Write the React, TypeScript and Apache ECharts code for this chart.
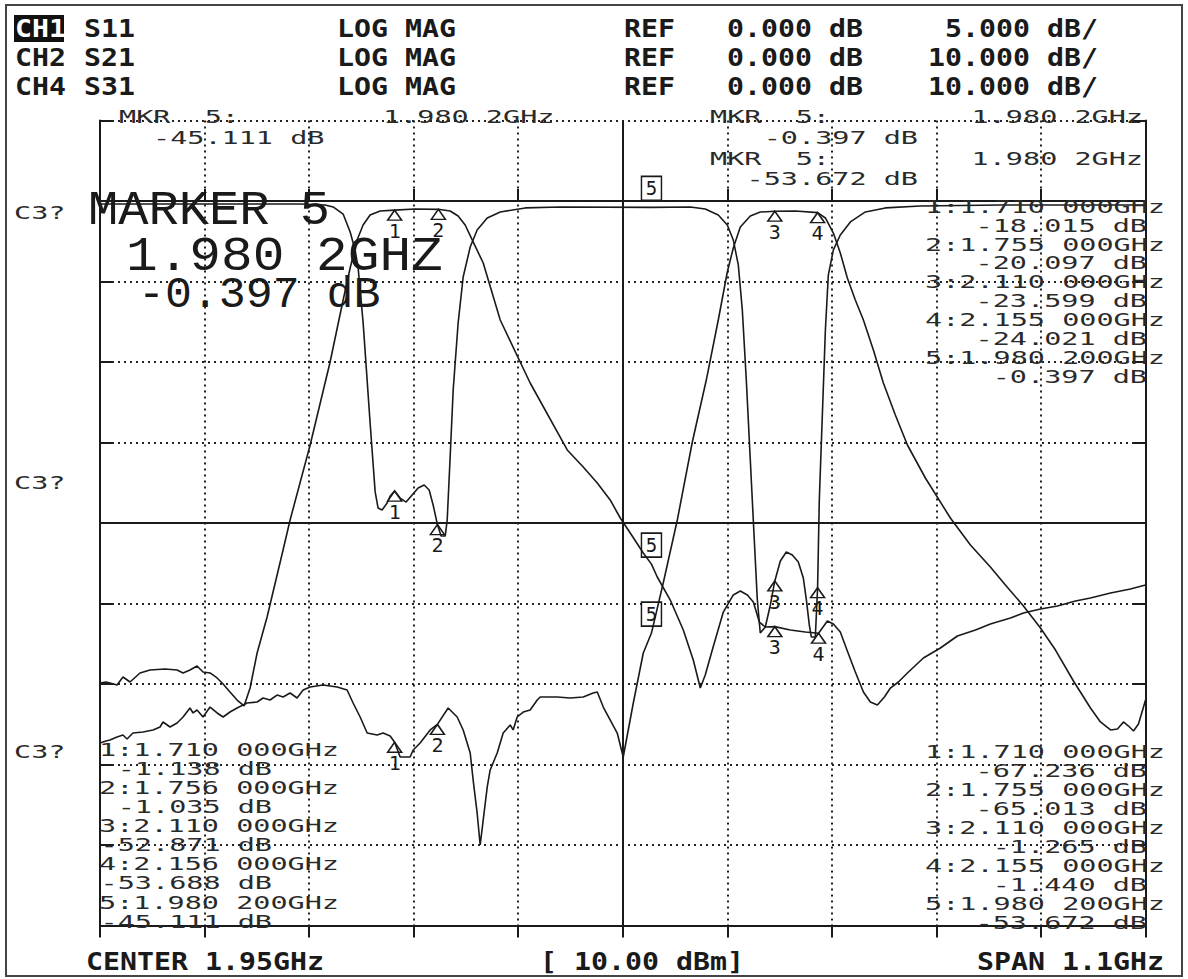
import React, { useEffect, useRef } from "react";
import * as echarts from "echarts";

// ---- axis ranges (GHz / dB) ----
const FREQ_MIN = 1.4;
const FREQ_MAX = 2.5;
const FREQ_CENTER = 1.95;
const CH1_RANGE = [-45, 5]; // 5 dB/div, ref 0 dB one division below top
const CH24_RANGE = [-90, 10]; // 10 dB/div

// ---- traces [GHz, dB] ----
const s11Trace: [number, number][] = [
  [1.4, -0.19], [1.5053, -0.19], [1.6105, -0.19], [1.6368, -0.25], [1.6453, -0.37], [1.6558, -0.81],
  [1.6632, -1.93], [1.6684, -3.04], [1.6716, -4.16], [1.6768, -7.52], [1.6842, -13.79], [1.6895, -18.07],
  [1.6926, -19.07], [1.6968, -19.19], [1.7021, -18.76], [1.7053, -18.32], [1.71, -18.015], [1.7158, -18.45],
  [1.7221, -18.7], [1.7284, -18.26], [1.7347, -17.83], [1.7411, -17.64], [1.7463, -17.95], [1.7505, -18.88],
  [1.755, -20.097], [1.7589, -20.81], [1.7632, -20.81], [1.7653, -19.81], [1.7684, -15.9], [1.7716, -11.74],
  [1.7768, -7.58], [1.7821, -4.72], [1.7895, -2.86], [1.7968, -1.8], [1.8074, -1.06], [1.8211, -0.68],
  [1.8474, -0.43], [1.8842, -0.37], [1.9802, -0.397], [2.0211, -0.37], [2.0368, -0.5], [2.0505, -0.87],
  [2.06, -1.49], [2.0663, -2.42], [2.0716, -3.98], [2.0758, -6.77], [2.08, -11.12], [2.0842, -16.09],
  [2.0884, -21.06], [2.0916, -24.78], [2.0947, -26.83], [2.1, -26.46], [2.1053, -25.09], [2.11, -23.599],
  [2.1158, -22.36], [2.1221, -21.8], [2.1284, -21.99], [2.1347, -22.42], [2.14, -23.42], [2.1432, -24.78],
  [2.1463, -26.34], [2.1484, -27.08], [2.1526, -27.08], [2.155, -24.021], [2.1568, -18.57], [2.16, -13.29],
  [2.1632, -8.01], [2.1663, -4.6], [2.1716, -3.04], [2.1789, -2.11], [2.1895, -1.3], [2.2053, -0.68],
  [2.2263, -0.43], [2.2632, -0.31], [2.3474, -0.25], [2.5, -0.25],
];

const s21Trace: [number, number][] = [
  [1.4, -59.88], [1.4063, -59.75], [1.4105, -59.88], [1.4179, -60.12], [1.4242, -59.13], [1.4316, -59.75],
  [1.4421, -58.63], [1.4526, -58.26], [1.4684, -58.14], [1.4811, -58.26], [1.4874, -58.63], [1.4947, -58.26],
  [1.5021, -57.76], [1.5084, -58.51], [1.5158, -58.63], [1.5232, -59.25], [1.5295, -60.0], [1.5368, -60.99],
  [1.5442, -61.99], [1.5516, -62.73], [1.5579, -60.5], [1.5653, -56.15], [1.5758, -51.68], [1.5926, -43.35],
  [1.6, -39.63], [1.6211, -30.31], [1.6421, -20.0], [1.6558, -12.3], [1.6632, -8.32], [1.6705, -4.84],
  [1.6768, -2.98], [1.6842, -1.74], [1.6947, -1.24], [1.71, -1.138], [1.7316, -0.99], [1.756, -1.035],
  [1.7684, -1.24], [1.7768, -1.86], [1.7842, -2.98], [1.7916, -4.84], [1.8032, -7.7], [1.8211, -14.78],
  [1.8526, -22.61], [1.8916, -30.93], [1.9084, -33.04], [1.9232, -35.03], [1.9368, -37.14], [1.9474, -39.38],
  [1.9579, -41.24], [1.9716, -43.73], [1.9802, -45.111], [1.9863, -46.71], [2.0, -49.57], [2.0137, -53.29],
  [2.0242, -57.02], [2.0316, -60.5], [2.0368, -58.88], [2.0442, -55.78], [2.0558, -51.06], [2.0663, -48.94],
  [2.0737, -48.45], [2.0811, -48.94], [2.0874, -49.81], [2.0937, -52.3], [2.1, -52.92], [2.11, -52.871],
  [2.1263, -53.29], [2.1421, -53.54], [2.156, -53.688], [2.1653, -52.17], [2.1716, -52.55], [2.1789, -53.54],
  [2.1863, -55.9], [2.1947, -58.51], [2.2032, -60.99], [2.2105, -62.24], [2.2179, -62.61], [2.2253, -61.61],
  [2.2316, -60.5], [2.24, -59.75], [2.2495, -58.63], [2.2663, -56.77], [2.2842, -55.53], [2.3021, -54.04],
  [2.3211, -53.29], [2.3368, -52.55], [2.3579, -51.8], [2.3716, -51.18], [2.3895, -50.68], [2.4074, -50.31],
  [2.4263, -49.69], [2.4421, -49.32], [2.4632, -48.7], [2.4842, -48.2], [2.5, -47.7],
];

const s31Trace: [number, number][] = [
  [1.4, -67.33], [1.4063, -67.08], [1.4105, -66.96], [1.4179, -66.58], [1.4242, -66.34], [1.4284, -66.83],
  [1.4347, -66.09], [1.4453, -65.96], [1.4558, -65.71], [1.4632, -65.34], [1.4663, -64.72], [1.4737, -65.34],
  [1.4811, -64.84], [1.4874, -64.1], [1.4947, -62.98], [1.4979, -63.6], [1.5021, -63.23], [1.5084, -64.1],
  [1.5158, -62.86], [1.5232, -63.6], [1.5295, -64.1], [1.5368, -63.48], [1.5442, -62.98], [1.5547, -62.36],
  [1.5653, -62.24], [1.5716, -61.74], [1.5789, -61.99], [1.5863, -61.37], [1.5926, -61.61], [1.6, -61.12],
  [1.6074, -61.74], [1.6137, -60.75], [1.6211, -60.37], [1.6347, -60.12], [1.6495, -60.37], [1.66, -60.75],
  [1.6663, -62.36], [1.6737, -64.1], [1.6811, -66.09], [1.6916, -66.34], [1.6979, -66.09], [1.7053, -66.46],
  [1.71, -67.236], [1.7158, -69.07], [1.7263, -69.07], [1.7295, -68.2], [1.7368, -67.33], [1.7474, -65.71],
  [1.755, -65.013], [1.7663, -62.98], [1.7758, -64.1], [1.7821, -65.71], [1.7895, -68.57], [1.7926, -71.93],
  [1.7968, -76.02], [1.8, -80.0], [1.8032, -76.89], [1.8074, -72.8], [1.8105, -70.68], [1.8179, -68.57],
  [1.8242, -66.09], [1.8316, -65.09], [1.8347, -65.71], [1.8389, -64.1], [1.8453, -63.48], [1.8526, -63.23],
  [1.86, -61.99], [1.8632, -61.61], [1.8811, -61.61], [1.8947, -61.74], [1.9084, -61.61], [1.9189, -61.12],
  [1.9232, -60.99], [1.9295, -62.86], [1.9442, -66.09], [1.9505, -69.07], [1.9611, -62.36], [1.9716, -56.15],
  [1.9802, -53.672], [1.9926, -47.45], [2.0074, -39.63], [2.0232, -29.94], [2.0379, -22.24], [2.0505, -14.78],
  [2.06, -8.82], [2.0663, -5.84], [2.0737, -3.23], [2.0842, -1.86], [2.0947, -1.37], [2.11, -1.265],
  [2.1316, -1.24], [2.155, -1.44], [2.1632, -2.11], [2.1716, -3.98], [2.1789, -6.46], [2.1863, -9.57],
  [2.1947, -12.3], [2.2032, -14.78], [2.2137, -18.51], [2.2242, -22.61], [2.2368, -26.58], [2.2495, -30.31],
  [2.2684, -34.41], [2.2947, -39.38], [2.3158, -42.73], [2.3368, -45.47], [2.3526, -47.7], [2.3716, -50.31],
  [2.3895, -53.04], [2.4053, -55.78], [2.4242, -59.63], [2.4421, -62.98], [2.4526, -64.72], [2.4632, -65.71],
  [2.4705, -65.59], [2.4768, -64.72], [2.4821, -65.22], [2.4874, -65.84], [2.4926, -64.97], [2.4979, -62.86],
  [2.5, -61.99],
];

// ---- markers [GHz, dB] (1..4 triangles, 5 active box) ----
const s11Markers: [number, number][] = [[1.71, -18.015], [1.755, -20.097], [2.11, -23.599], [2.155, -24.021], [1.9802, -0.397]];
const s21Markers: [number, number][] = [[1.71, -1.138], [1.756, -1.035], [2.11, -52.871], [2.156, -53.688], [1.9802, -45.111]];
const s31Markers: [number, number][] = [[1.71, -67.236], [1.755, -65.013], [2.11, -1.265], [2.155, -1.44], [1.9802, -53.672]];

// ---- texts ----
const channelLabels = ["CH1", "CH2", "CH4"];
const paramLabels = ["S11", "S21", "S31"];
const formatLabels = ["LOG MAG", "LOG MAG", "LOG MAG"];
const refLabels = ["REF", "REF", "REF"];
const refValueLabels = ["0.000 dB", "0.000 dB", "0.000 dB"];
const scaleLabels = ["5.000 dB/", "10.000 dB/", "10.000 dB/"];
const footerLabels = ["CENTER 1.95GHz", "[ 10.00 dBm]", "SPAN 1.1GHz"];
const bigMarkerLines = ["MARKER 5", "1.980 2GHZ", "-0.397 dB"];
const listCH1 = ["1:1.710 000GHz", "-18.015 dB", "2:1.755 000GHz", "-20.097 dB", "3:2.110 000GHz", "-23.599 dB", "4:2.155 000GHz", "-24.021 dB", "5:1.980 200GHz", "-0.397 dB"];
const listCH2 = ["1:1.710 000GHz", "-1.138 dB", "2:1.756 000GHz", "-1.035 dB", "3:2.110 000GHz", "-52.871 dB", "4:2.156 000GHz", "-53.688 dB", "5:1.980 200GHz", "-45.111 dB"];
const listCH4 = ["1:1.710 000GHz", "-67.236 dB", "2:1.755 000GHz", "-65.013 dB", "3:2.110 000GHz", "-1.265 dB", "4:2.155 000GHz", "-1.440 dB", "5:1.980 200GHz", "-53.672 dB"];
const mkrReadouts = [
  { label: "MKR  5:", freq: "1.980 2GHz", value: "-45.111 dB" },
  { label: "MKR  5:", freq: "1.980 2GHz", value: "-0.397 dB" },
  { label: "MKR  5:", freq: "1.980 2GHz", value: "-53.672 dB" },
];
const sideLabels = ["C3?", "C3?", "C3?"];

const INK = "#1a1a1a";
const SMALL_SIZE = 16;
const SMALL_SCALE = 1.78;
const BOLD_SIZE = 25;
const BOLD_SCALE = 1.13;

function smallText(text: string, x: number, y: number, align: string = "left") {
  return {
    type: "text",
    x,
    y,
    scaleX: SMALL_SCALE,
    scaleY: 1.05,
    z: 100,
    silent: true,
    style: {
      text,
      fill: "#2a2a2a",
      font: `${SMALL_SIZE}px 'DejaVu Sans Mono'`,
      textAlign: align,
      textVerticalAlign: "middle",
      align,
      verticalAlign: "middle",
    },
  };
}

function boldText(text: string, x: number, y: number, align: string = "left", fill: string = INK) {
  return {
    type: "text",
    x,
    y,
    scaleX: BOLD_SCALE,
    z: 101,
    silent: true,
    style: {
      text,
      fill,
      font: `bold ${BOLD_SIZE}px 'DejaVu Sans Mono'`,
      textAlign: align,
      textVerticalAlign: "middle",
      align,
      verticalAlign: "middle",
    },
  };
}

function bigText(text: string, x: number, y: number, size: number, sx: number) {
  return {
    type: "text",
    x,
    y,
    scaleX: sx,
    z: 100,
    silent: true,
    style: {
      text,
      fill: INK,
      font: `${size}px 'Liberation Mono'`,
      textAlign: "left",
      textVerticalAlign: "middle",
      align: "left",
      verticalAlign: "middle",
    },
  };
}

function markerPoints(markers: [number, number][]) {
  return markers.map((m, i) => {
    if (i === 4) {
      return {
        coord: m,
        value: "5",
        symbol: "rect",
        symbolSize: [20, 24],
        symbolOffset: [0, -19],
        itemStyle: { color: "#fff", borderColor: INK, borderWidth: 1.6 },
        label: { show: true, position: "inside", formatter: "5", fontSize: 19, color: INK, fontFamily: "DejaVu Sans Mono" },
      };
    }
    return { coord: m, value: String(i + 1) };
  });
}

function traceSeries(name: string, data: [number, number][], yAxisIndex: number, markers: [number, number][], extra: any = {}) {
  return {
    name,
    type: "line",
    xAxisIndex: 0,
    yAxisIndex,
    data,
    showSymbol: false,
    symbol: "none",
    smooth: false,
    silent: true,
    lineStyle: { color: INK, width: 1.6 },
    z: 5,
    markPoint: {
      silent: true,
      symbol: "triangle",
      symbolSize: [14, 10],
      symbolOffset: [0, 5],
      itemStyle: { color: "rgba(0,0,0,0)", borderColor: INK, borderWidth: 1.5 },
      label: {
        show: true,
        position: "bottom",
        distance: 0,
        formatter: (p: any) => p.value,
        fontSize: 20,
        color: INK,
        fontFamily: "DejaVu Sans Mono",
      },
      data: markerPoints(markers),
    },
    ...extra,
  };
}

export default function App() {
  const ref = useRef<HTMLDivElement>(null);

  useEffect(() => {
    if (!ref.current) return;
    const chart = echarts.init(ref.current, undefined, { renderer: "svg" });

    const dotted = { type: [2, 4], color: "#222", width: 2 };
    const border = { show: true, lineStyle: { color: INK, width: 2 } };
    const ticks = { show: true, inside: true, length: 12, lineStyle: { color: INK, width: 2 } };

    const graphics: any[] = [];
    // outer frame
    graphics.push({
      type: "rect",
      z: 0,
      silent: true,
      shape: { x: 6, y: 5, width: 1176, height: 971 },
      style: { fill: "none", stroke: "#444", lineWidth: 2 },
    });
    // header
    const rowY = [28, 57, 86];
    rowY.forEach((y, i) => {
      if (i === 0) {
        graphics.push({
          type: "rect",
          z: 100,
          silent: true,
          shape: { x: 14, y: 15, width: 50, height: 27 },
          style: { fill: "#111" },
        });
        graphics.push(boldText(channelLabels[i], 15, y, "left", "#fff"));
      } else {
        graphics.push(boldText(channelLabels[i], 15, y));
      }
      graphics.push(boldText(paramLabels[i], 84, y));
      graphics.push(boldText(formatLabels[i], 337, y));
      graphics.push(boldText(refLabels[i], 624, y));
      graphics.push(boldText(refValueLabels[i], 727, y));
      graphics.push(boldText(scaleLabels[i], 1098, y, "right"));
    });
    // footer
    graphics.push(boldText(footerLabels[0], 86, 961));
    graphics.push(boldText(footerLabels[1], 540, 961));
    graphics.push(boldText(footerLabels[2], 1164, 961, "right"));

    // side labels
    [213, 483, 752].forEach((y, i) => graphics.push(smallText(sideLabels[i], 14, y)));

    // marker readouts at top
    graphics.push(smallText(mkrReadouts[0].label, 119, 117));
    graphics.push(smallText(mkrReadouts[0].freq, 383, 117));
    graphics.push(smallText(mkrReadouts[0].value, 153, 138));
    graphics.push(smallText(mkrReadouts[1].label, 710, 117));
    graphics.push(smallText(mkrReadouts[1].freq, 1143, 117, "right"));
    graphics.push(smallText(mkrReadouts[1].value, 918, 138, "right"));
    graphics.push(smallText(mkrReadouts[2].label, 710, 159));
    graphics.push(smallText(mkrReadouts[2].freq, 1143, 159, "right"));
    graphics.push(smallText(mkrReadouts[2].value, 918, 179, "right"));

    // marker lists
    listCH1.forEach((t, i) => graphics.push(smallText(t, i % 2 === 0 ? 1165 : 1147, 207 + i * 18.9, "right")));
    listCH2.forEach((t, i) =>
      graphics.push(i % 2 === 0 ? smallText(t, 99, 750 + i * 19.1) : smallText(t, 272, 750 + i * 19.1, "right"))
    );
    listCH4.forEach((t, i) => graphics.push(smallText(t, i % 2 === 0 ? 1165 : 1147, 752 + i * 19.0, "right")));

    // big active marker readout
    graphics.push(bigText(bigMarkerLines[0], 88, 211, 48, 1.05));
    graphics.push(bigText(bigMarkerLines[1], 126, 257, 48, 1.1));
    graphics.push(bigText(bigMarkerLines[2], 138, 295, 44, 1.02));

    const option: any = {
      animation: false,
      backgroundColor: "#fff",
      grid: { left: 100, right: 42.5, top: 120.5, bottom: 53.5, containLabel: false },
      xAxis: [
        { type: "value", min: FREQ_MIN, max: FREQ_MAX, show: false },
        {
          type: "value", min: 0, max: 10, interval: 1, position: "bottom",
          axisLine: border, axisTick: ticks, axisLabel: { show: false },
          splitLine: { show: true, lineStyle: dotted },
        },
        {
          type: "value", min: 0, max: 10, interval: 1, position: "top",
          axisLine: border, axisTick: ticks, axisLabel: { show: false }, splitLine: { show: false },
        },
      ],
      yAxis: [
        { type: "value", min: CH1_RANGE[0], max: CH1_RANGE[1], show: false },
        { type: "value", min: CH24_RANGE[0], max: CH24_RANGE[1], show: false },
        {
          type: "value", min: 0, max: 10, interval: 1, position: "left",
          axisLine: border, axisTick: ticks, axisLabel: { show: false },
          splitLine: { show: true, lineStyle: dotted },
        },
        {
          type: "value", min: 0, max: 10, interval: 1, position: "right",
          axisLine: border, axisTick: ticks, axisLabel: { show: false }, splitLine: { show: false },
        },
      ],
      series: [
        traceSeries("S11", s11Trace, 0, s11Markers, {
          markLine: {
            silent: true,
            symbol: ["none", "none"],
            label: { show: false },
            lineStyle: { type: "solid", color: INK, width: 2 },
            data: [{ yAxis: 0 }, { yAxis: -20 }, { xAxis: FREQ_CENTER }],
          },
        }),
        traceSeries("S21", s21Trace, 1, s21Markers),
        traceSeries("S31", s31Trace, 1, s31Markers),
      ],
      graphic: { elements: graphics },
    };

    chart.setOption(option);
    return () => chart.dispose();
  }, []);

  return (
    <div
      ref={ref}
      style={{ position: "fixed", left: 0, top: 0, width: 1188, height: 979, background: "#fff" }}
    />
  );
}
